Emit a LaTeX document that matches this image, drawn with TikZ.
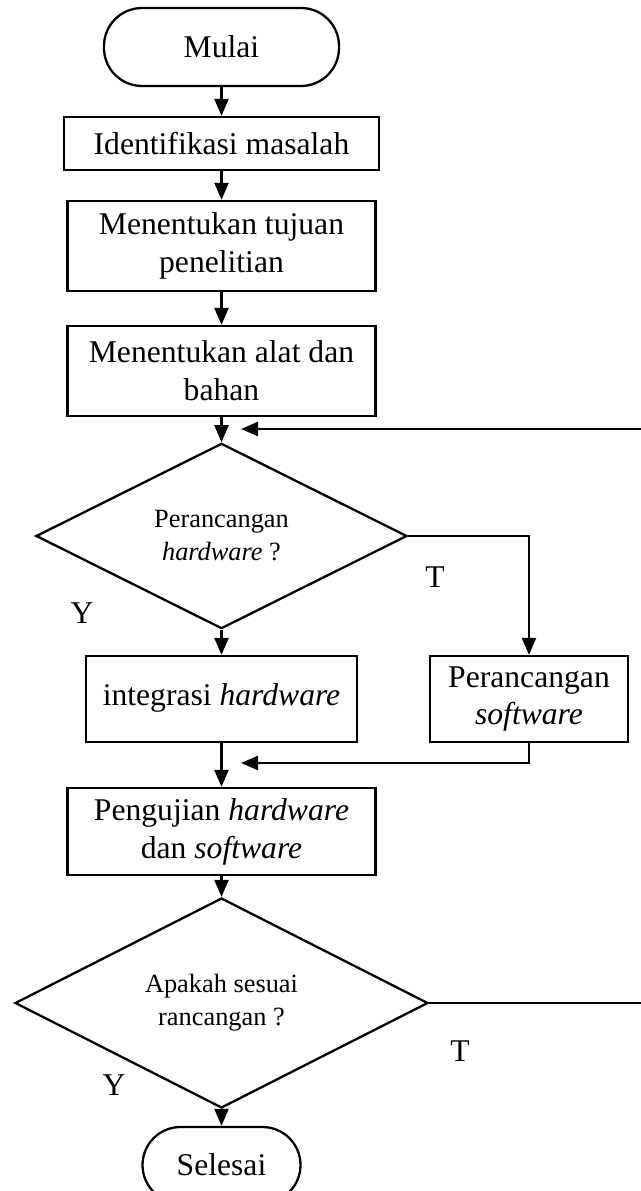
\documentclass[tikz,border=0pt]{standalone}
\usepackage{fontspec}
\setmainfont{Liberation Serif}
\usetikzlibrary{shapes.geometric,arrows.meta}

\tikzset{
  prosesbox/.style={draw, line width=1.3pt, inner sep=2pt, align=center,
    font=\fontsize{18}{21.6}\selectfont},
  terminal/.style={prosesbox, rounded corners=0.76cm},
  keputusan/.style={draw, diamond, line width=1.3pt, inner sep=0pt, align=center,
    font=\fontsize{15}{18.8}\selectfont},
  jawab/.style={font=\fontsize{18}{21.6}\selectfont}
}

\begin{document}
\begin{tikzpicture}[line width=1.3pt, >={Triangle[length=0.34cm,width=0.28cm]}]
                \useasboundingbox (0,0) rectangle (12.82,-23.82);
                \node[terminal, minimum width=4.7cm, minimum height=1.56cm] (mulai) at (4.43,-0.94) {Mulai};
                \node[prosesbox, minimum width=6.3cm, minimum height=1.06cm] (identifikasi) at (4.43,-2.87) {Identifikasi masalah};
                \node[prosesbox, minimum width=6.16cm, minimum height=1.8cm] (tujuan) at (4.43,-4.92) {Menentukan tujuan\\penelitian};
                \node[prosesbox, minimum width=6.16cm, minimum height=1.8cm] (alat) at (4.43,-7.42) {Menentukan alat dan\\bahan};
                \node[keputusan, minimum width=7.42cm, minimum height=3.3cm] (cekhw) at (4.43,-10.72) {Perancangan\\\textit{hardware} ?};
                \node[prosesbox, minimum width=5.42cm, minimum height=1.72cm] (integrasi) at (4.43,-13.98) {\raisebox{0.18cm}{integrasi \textit{hardware}}};
                \node[prosesbox, minimum width=3.96cm, minimum height=1.72cm] (software) at (10.58,-13.98) {Perancangan\\\textit{software}};
                \node[prosesbox, minimum width=6.16cm, minimum height=1.74cm] (pengujian) at (4.43,-16.63) {Pengujian \textit{hardware}\\dan \textit{software}};
                \node[keputusan, minimum width=8.26cm, minimum height=3.48cm] (cekuji) at (4.43,-20.06) {Apakah sesuai\\rancangan ?};
                \node[terminal, minimum width=3.16cm, minimum height=1.52cm] (selesai) at (4.43,-23.3) {Selesai};
                % label jawaban
                \node[jawab] (t1) at (8.7,-11.54) {T};
                \node[jawab] (y1) at (1.64,-12.26) {Y};
                \node[jawab] (t2) at (9.2,-21.02) {T};
                \node[jawab] (y2) at (2.28,-21.7) {Y};
                % titik bebas
                \coordinate (balikR) at (12.82,-8.58);
                \coordinate (balikL) at (4.82,-8.58);
                \coordinate (gabung) at (4.82,-15.26);
                \coordinate (ujung) at (12.82,-20.06);
                % alur
                \draw[->] (mulai) -- (identifikasi);
                \draw[->] (identifikasi) -- (tujuan);
                \draw[->] (tujuan) -- (alat);
                \draw[->] (alat) -- (cekhw);
                \draw[->] (balikR) -- (balikL);
                \draw[->] (cekhw.east) -| (software.north);
                \draw[->] (cekhw) -- (integrasi);
                \draw[->] (integrasi) -- (pengujian);
                \draw[->] (software.south) |- (gabung);
                \draw[->] (pengujian) -- (cekuji);
                \draw (cekuji.east) -- (ujung);
                \draw[->] (cekuji) -- (selesai);
            \end{tikzpicture}
\end{document}
